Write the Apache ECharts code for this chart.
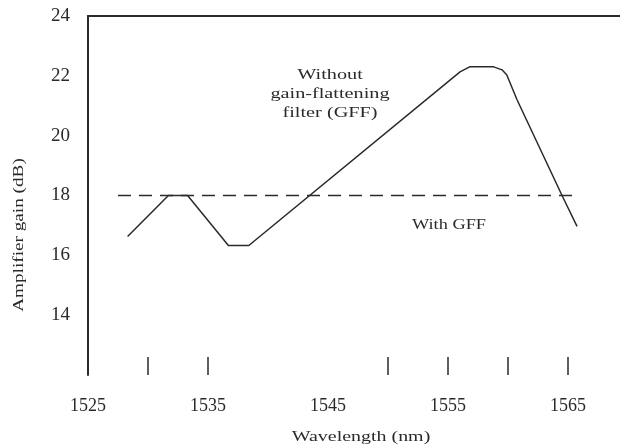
<!DOCTYPE html>
<html><head><meta charset="utf-8">
<script src="https://cdn.jsdelivr.net/npm/echarts@6/dist/echarts.min.js"></script>
<style>html,body{margin:0;padding:0;background:#fff}#c{width:620px;height:446px}</style>
</head><body><div id="c"></div>
<script>
// Data
const withoutGffWavelength = [1528.3, 1531.7, 1533.3, 1536.7, 1538.4, 1556.0, 1556.8, 1558.8, 1559.5, 1559.9, 1560.75, 1564.5, 1565.75];
const withoutGffGain       = [16.63, 18.0, 18.0, 16.33, 16.33, 22.13, 22.3, 22.3, 22.2, 22.03, 21.2, 18.0, 16.97];
const withGffWavelength = [1527.5, 1565.75];
const withGffGain       = [18.0, 18.0];
const xTickValues  = [1530, 1535, 1550, 1555, 1560, 1565];
const xLabelValues = [1525, 1535, 1545, 1555, 1565];
const yLabelValues = [14, 16, 18, 20, 22, 24];

const font = '"Liberation Serif", "DejaVu Serif", serif';
const ink = '#2a2a2a';
const chart = echarts.init(document.getElementById('c'));
chart.setOption({
  animation: false,
  backgroundColor: '#fff',
  textStyle: { fontFamily: font },
  grid: { left: 88, right: 0, top: 16, bottom: 71, outerBoundsMode: 'none', containLabel: false },
  xAxis: [{
    type: 'value', min: 1525, max: 1569.33,
    axisLine: { show: false },
    splitLine: { show: false },
    axisTick: { show: true, inside: true, length: 18, customValues: xTickValues, lineStyle: { color: ink, width: 1.5 } },
    axisLabel: { customValues: xLabelValues, margin: 22, fontFamily: font, fontSize: 18, color: ink,
      formatter: v => String(v) }
  }, {
    type: 'value', position: 'top', min: 1525, max: 1569.33,
    axisLine: { show: true, lineStyle: { color: ink, width: 2 } },
    axisTick: { show: false }, axisLabel: { show: false }, splitLine: { show: false }
  }],
  yAxis: {
    type: 'value', min: 12, max: 24, interval: 2,
    axisLine: { show: true, lineStyle: { color: ink, width: 2 } },
    axisTick: { show: false },
    splitLine: { show: false },
    axisLabel: { customValues: yLabelValues, margin: 18, fontFamily: font, fontSize: 19, color: ink,
      formatter: v => String(v) }
  },
  graphic: [
    { type: 'text', x: 19, y: 235, rotation: Math.PI / 2, scaleX: 1.28,
      style: { text: 'Amplifier gain (dB)', font: '15px ' + font, fill: ink, align: 'center', verticalAlign: 'middle' } },
    { type: 'text', x: 361, y: 437, scaleX: 1.33,
      style: { text: 'Wavelength (nm)', font: '15px ' + font, fill: ink, align: 'center', verticalAlign: 'middle' } },
    { type: 'text', x: 330, y: 94, scaleX: 1.35,
      style: { text: 'Without\ngain-flattening\nfilter (GFF)', font: '15px ' + font, fill: ink, align: 'center', verticalAlign: 'middle', lineHeight: 19 } },
    { type: 'text', x: 449, y: 225, scaleX: 1.22,
      style: { text: 'With GFF', font: '15px ' + font, fill: ink, align: 'center', verticalAlign: 'middle' } }
  ],
  series: [{
    type: 'line', xAxisIndex: 0, symbol: 'none',
    data: withoutGffWavelength.map((w, i) => [w, withoutGffGain[i]]),
    lineStyle: { color: ink, width: 1.5 }
  }, {
    type: 'line', xAxisIndex: 0, symbol: 'none',
    data: withGffWavelength.map((w, i) => [w, withGffGain[i]]),
    lineStyle: { color: ink, width: 1.5, type: [13, 8] }
  }]
});
</script></body></html>
